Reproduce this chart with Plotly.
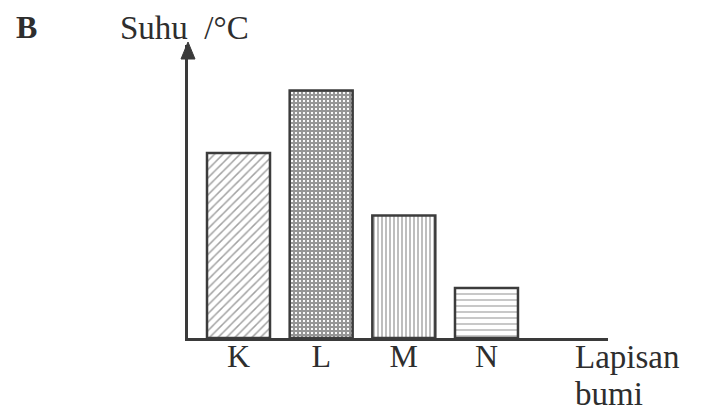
import plotly.graph_objects as go

categories = ["K", "L", "M", "N"]
temperature = [3.7, 4.95, 2.45, 1.0]
patterns = ["/", "+", "|", "-"]
pattern_sizes = [6, 4, 4, 6]
pattern_solidity = [0.25, 0.78, 0.35, 0.2]
pattern_colors = ["#454545", "#2c2c2c", "#454545", "#454545"]

FONT = "Liberation Serif, Times New Roman, serif"
INK = "#2e2e2e"

fig = go.Figure(go.Bar(
    x=categories,
    y=temperature,
    width=0.762,
    marker=dict(
        color="white",
        line=dict(color="#3c3c3c", width=2.5),
        pattern=dict(shape=patterns, size=pattern_sizes, solidity=pattern_solidity,
                     fgcolor=pattern_colors, bgcolor="white", fillmode="overlay"),
    ),
    hoverinfo="skip",
))

fig.update_layout(
    width=712, height=403,
    margin=dict(l=180, r=112, t=37, b=73),
    paper_bgcolor="white", plot_bgcolor="white",
    showlegend=False,
    font=dict(family=FONT, color=INK, size=32),
    xaxis=dict(range=[-0.611, 4.47], showline=True, linecolor="#3a3a3a", linewidth=3,
               showgrid=False, zeroline=False, ticks="", tickfont=dict(size=32, color=INK),
               ticklabelstandoff=-12, fixedrange=True),
    yaxis=dict(range=[0, 5.86], showline=True, linecolor="#3a3a3a", linewidth=3,
               showgrid=False, zeroline=False, showticklabels=False, ticks="",
               fixedrange=True),
    shapes=[dict(type="path", xref="paper", yref="paper", xsizemode="pixel", ysizemode="pixel",
                 xanchor=0, yanchor=1, path="M -7,-14 L 7,-14 L 0,3 Z",
                 fillcolor="#3a3a3a", line=dict(color="#3a3a3a", width=1))],
    annotations=[
        dict(text="<b>B</b>", xref="paper", yref="paper", x=-0.415, y=1.061,
             xanchor="left", yanchor="middle", showarrow=False, font=dict(size=32, color=INK)),
        dict(text="Suhu\u00a0 /°C", xref="paper", yref="paper", x=-0.1667, y=1.058,
             xanchor="left", yanchor="middle", showarrow=False, font=dict(size=33, color=INK)),
        dict(text="Lapisan", xref="paper", yref="paper", x=0.9167, y=-0.0648,
             xanchor="left", yanchor="middle", showarrow=False, font=dict(size=33, color=INK)),
        dict(text="bumi", xref="paper", yref="paper", x=0.9167, y=-0.191,
             xanchor="left", yanchor="middle", showarrow=False, font=dict(size=33, color=INK)),
    ],
)

fig.write_html("out.html")
